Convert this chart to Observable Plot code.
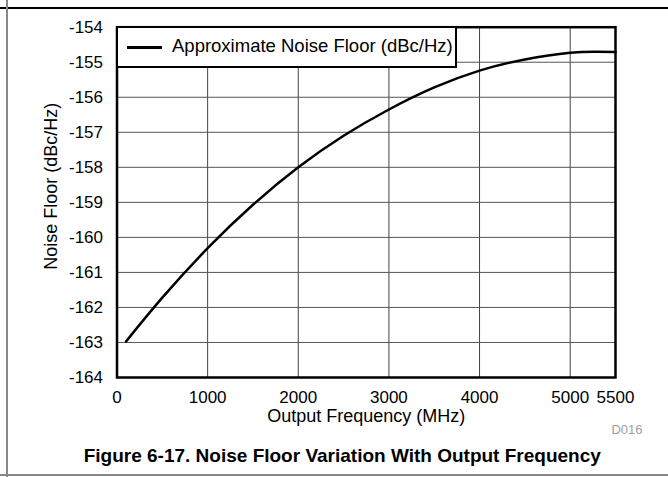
<!DOCTYPE html>
<html>
<head>
<meta charset="utf-8">
<style>
  body { margin: 0; background: #fff; font-family: "Liberation Sans", Arial, sans-serif; }
  #wrap { position: relative; width: 668px; height: 477px; overflow: hidden; }
  .rule { position: absolute; }
  #legend { position: absolute; left: 116px; top: 26px; width: 341px; height: 42px; box-sizing: border-box;
            border: 2px solid #000; background: #fff; }
  #legend .swatch { position: absolute; left: 9px; top: 18px; width: 35px; height: 2.5px; background: #000; }
  #legend .lbl { position: absolute; left: 54px; top: 7px; font-size: 18.5px; line-height: 22px; color: #000; white-space: nowrap; }
</style>
<script src="https://cdn.jsdelivr.net/npm/d3@7"></script>
<script src="https://cdn.jsdelivr.net/npm/@observablehq/plot@0.6"></script>
</head>
<body>
<div id="wrap"></div>
<script>
// ---- data ----
const freqMHz    = [100, 500, 1000, 1500, 2000, 2500, 3000, 3500, 4000, 4500, 5000, 5300, 5500];
const noiseFloor = [-162.97, -161.72, -160.31, -159.07, -158.0, -157.10, -156.35, -155.72, -155.24, -154.92, -154.73, -154.70, -154.71];
const xTicks = [0, 1000, 2000, 3000, 4000, 5000, 5500];
const yTicks = [-164, -163, -162, -161, -160, -159, -158, -157, -156, -155, -154];
const xGrid  = [1000, 2000, 3000, 4000, 5000];
const yGrid  = [-163, -162, -161, -160, -159, -158, -157, -156, -155];
const seriesName = "Approximate Noise Floor (dBc/Hz)";
const xLabel = "Output Frequency (MHz)";
const yLabel = "Noise Floor (dBc/Hz)";
const figTitle = "Figure 6-17. Noise Floor Variation With Output Frequency";
const figCode = "D016";

const rows = freqMHz.map((f, i) => ({f, v: noiseFloor[i]}));

const chart = Plot.plot({
  width: 668,
  height: 477,
  marginLeft: 116.5,
  marginRight: 53,
  marginTop: 26.7,
  marginBottom: 100,
  style: {fontFamily: "'Liberation Sans', Arial, sans-serif", fontSize: "17px", color: "#000", background: "transparent", overflow: "visible"},
  x: {domain: [0, 5500], ticks: xTicks, tickFormat: d => String(d), tickSize: 0, tickPadding: 13, label: null},
  y: {domain: [-164, -154], ticks: yTicks, tickFormat: d => String(d), tickSize: 0, tickPadding: 14, label: null},
  marks: [
    Plot.gridX(xGrid, {stroke: "#444", strokeOpacity: 1, strokeWidth: 1}),
    Plot.gridY(yGrid, {stroke: "#555", strokeOpacity: 1, strokeWidth: 1}),
    Plot.line(rows, {x: "f", y: "v", stroke: "#000", strokeWidth: 2.5, curve: "natural"}),
    Plot.frame({stroke: "#000", strokeWidth: 2.5}),
    Plot.text([xLabel], {text: d => d, frameAnchor: "bottom", textAnchor: "middle", lineAnchor: "middle", dy: 39, fontSize: 18, fill: "#000"}),
    Plot.text([yLabel], {text: d => d, frameAnchor: "left", textAnchor: "middle", lineAnchor: "middle", rotate: -90, dx: -66, dy: -16, fontSize: 18, fill: "#000"}),
    Plot.text([figCode], {text: d => d, frameAnchor: "bottom-right", textAnchor: "end", lineAnchor: "middle", dx: 27, dy: 52, fontSize: 13, fill: "#a0a0a0"}),
    Plot.text([figTitle], {text: d => d, frameAnchor: "bottom", textAnchor: "middle", lineAnchor: "middle", dx: -24, dy: 78, fontSize: 19, fontWeight: "bold", fill: "#000"})
  ]
});

const wrap = document.getElementById("wrap");
chart.style.position = "absolute";
chart.style.left = "0px";
chart.style.top = "0px";
wrap.appendChild(chart);

// page rules (document frame)
function rule(css) { const d = document.createElement("div"); d.className = "rule"; Object.assign(d.style, css); wrap.appendChild(d); }
rule({left: "0px", top: "7px", width: "668px", height: "2px", background: "#000"});
rule({left: "6px", top: "0px", width: "2px", height: "477px", background: "#888"});
rule({left: "0px", top: "474px", width: "668px", height: "2px", background: "#888"});

// legend
const lg = document.createElement("div");
lg.id = "legend";
lg.innerHTML = '<div class="swatch"></div><div class="lbl"></div>';
lg.querySelector(".lbl").textContent = seriesName;
wrap.appendChild(lg);
</script>
</body>
</html>
